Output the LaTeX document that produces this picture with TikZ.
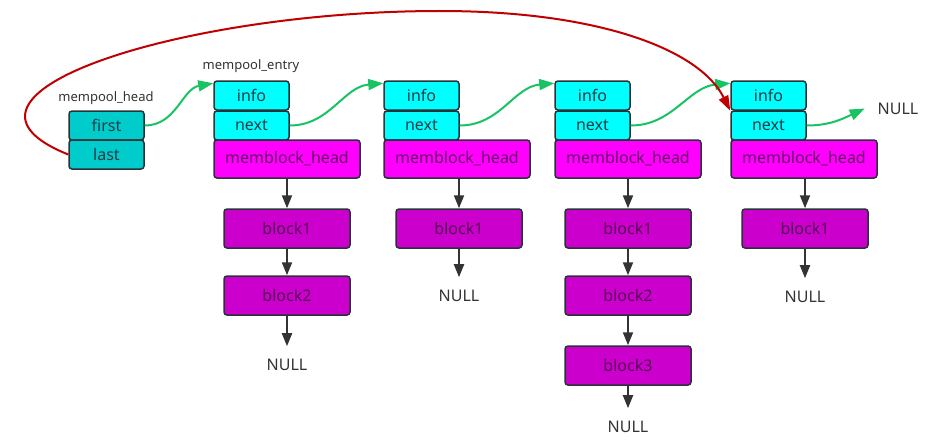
\documentclass[tikz,border=0pt]{standalone}
\usepackage{fontspec}
\setmainfont{Noto Sans}
\usetikzlibrary{arrows.meta,calc}
\definecolor{edgec}{RGB}{40,50,55}
\definecolor{headfill}{RGB}{0,204,204}
\definecolor{cyanfill}{RGB}{0,255,255}
\definecolor{mhfill}{RGB}{255,0,255}
\definecolor{blkfill}{RGB}{204,0,204}
\definecolor{cyantext}{RGB}{30,60,70}
\definecolor{mhtext}{RGB}{100,10,100}
\definecolor{blktext}{RGB}{85,0,85}
\definecolor{labelc}{RGB}{51,51,51}
\definecolor{greenc}{RGB}{25,195,100}
\definecolor{redc}{RGB}{192,0,0}
\definecolor{darkarrow}{RGB}{51,51,51}
\begin{document}
\begin{tikzpicture}[x=1pt,y=-1pt,
  box/.style={draw=edgec, line width=1.5pt, rounded corners=3pt, inner sep=0pt, font=\fontsize{16}{16}\selectfont},
  headbox/.style={box, fill=headfill, text=cyantext, minimum width=75pt, minimum height=29pt},
  cbox/.style={box, fill=cyanfill, text=cyantext, minimum width=75pt, minimum height=29pt},
  mhbox/.style={box, fill=mhfill, text=mhtext, minimum width=146pt, minimum height=38pt},
  blkbox/.style={box, fill=blkfill, text=blktext, minimum width=126pt, minimum height=39pt},
  lbl/.style={text=labelc, inner sep=0pt, font=\fontsize{13}{13}\selectfont},
  nullt/.style={text=labelc, inner sep=0pt, outer sep=13pt, font=\fontsize{16}{16}\selectfont},
  darr/.style={draw=darkarrow, line width=2pt, -{Triangle[length=13pt,width=10pt]}},
  garr/.style={draw=greenc, line width=2pt, -{Triangle[length=15pt,width=11pt]}},
  rarr/.style={draw=redc, line width=2pt, -{Triangle[length=15pt,width=10pt]}}
]
\useasboundingbox (0,0) rectangle (933,444);

% mempool head
\node[lbl] (hl) at (106,98) {mempool\_head};
\node[headbox] (first) at (106.5,125.5) {first};
\node[headbox] (last) at (106.5,154.5) {last};

\node[lbl] (el) at (251,66) {mempool\_entry};

% entries
\foreach \i/\L in {1/214,2/384,3/555,4/731}{
  \node[cbox] (info\i) at (\L+37.5,95.5) {info};
  \node[cbox] (next\i) at (\L+37.5,125.5) {next};
  \node[mhbox] (mh\i) at (\L+73,159) {memblock\_head};
}

% blocks
\node[blkbox] (b11) at (287,228.5) {block1};
\node[blkbox] (b12) at (287,295.5) {block2};
\node[blkbox] (b21) at (459,228.5) {block1};
\node[blkbox] (b31) at (628,228.5) {block1};
\node[blkbox] (b32) at (628,295.5) {block2};
\node[blkbox] (b33) at (628,365.5) {block3};
\node[blkbox] (b41) at (805,228.5) {block1};

% NULLs
\node[nullt] (n1) at (287,365) {NULL};
\node[nullt] (n2) at (459,296) {NULL};
\node[nullt] (n3) at (628,427) {NULL};
\node[nullt] (n4) at (805,297) {NULL};
\node[nullt] (n5) at (898,108.5) {NULL};

% dark arrows
\draw[darr] (mh1) -- (b11);
\draw[darr] (b11) -- (b12);
\draw[darr] (b12) -- (n1);
\draw[darr] (mh2.south -| b21.north) -- (b21.north);
\draw[darr] (b21) -- (n2);
\draw[darr] (mh3) -- (b31);
\draw[darr] (b31) -- (b32);
\draw[darr] (b32) -- (b33);
\draw[darr] (b33) -- (n3);
\draw[darr] (mh4.south -| b41.north) -- (b41.north);
\draw[darr] (b41) -- (n4);

% green arrows
\draw[garr] (first.east) to[out=0,in=190] ($(info1.north west)+(0,3)$);
\draw[garr] (next1.east) to[out=0,in=185] ($(info2.north west)+(0,3)$);
\draw[garr] (next2.east) to[out=0,in=185] ($(info3.north west)+(0,3)$);
\draw[garr] (next3.east) to[out=0,in=185] ($(info4.north west)+(0,3)$);
\draw[garr] (next4.east) to[out=0,in=205] (n5.west);

% red arrow
\coordinate (rtop) at (440,11);
\draw[rarr] (last.west) .. controls (-80,95) and (180,11) .. (rtop)
  .. controls (600,11) and (700,50) .. (info4.south west);
\end{tikzpicture}
\end{document}
